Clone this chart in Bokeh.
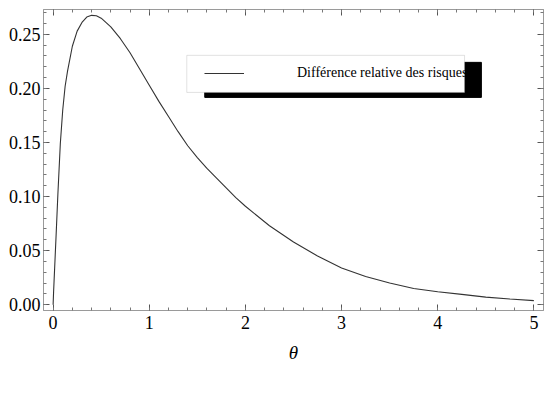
from bokeh.plotting import figure
from bokeh.models import (Range1d, LinearAxis, SingleIntervalTicker, NumeralTickFormatter,
                          BoxAnnotation, Legend, LegendItem, CustomLabelingPolicy)
from bokeh.embed import file_html
from bokeh.resources import INLINE

theta = [0.0, 0.005, 0.01, 0.02, 0.03, 0.05, 0.075, 0.1, 0.125, 0.15, 0.2, 0.25, 0.3, 0.35,
         0.4, 0.45, 0.5, 0.6, 0.7, 0.8, 0.9, 1.0, 1.1, 1.2, 1.3, 1.4, 1.5, 1.6, 1.7, 1.8,
         1.9, 2.0, 2.25, 2.5, 2.75, 3.0, 3.25, 3.5, 3.75, 4.0, 4.25, 4.5, 4.75, 5.0]
diff_rel = [0.0, 0.012, 0.022, 0.042, 0.062, 0.103, 0.149, 0.180, 0.202, 0.216, 0.239, 0.253,
            0.261, 0.266, 0.2676, 0.2672, 0.265, 0.257, 0.246, 0.233, 0.218, 0.203, 0.188,
            0.174, 0.160, 0.147, 0.136, 0.126, 0.117, 0.108, 0.099, 0.091, 0.073, 0.058,
            0.045, 0.034, 0.026, 0.020, 0.0150, 0.012, 0.0095, 0.0070, 0.0052, 0.0037]
series_name = "Différence relative des risques"
x_label = "θ"

FONT = "Liberation Serif"
FRAME = "#9a9a9a"

p = figure(width=548, height=395, output_backend="svg", toolbar_location=None,
           x_range=Range1d(-0.1, 5.1), y_range=Range1d(-0.0054, 0.2730),
           min_border_left=43, min_border_right=3, min_border_top=9, min_border_bottom=85,
           background_fill_color="white", border_fill_color="white")
p.grid.visible = False
p.outline_line_color = FRAME
p.outline_line_width = 1

no_labels = CustomLabelingPolicy(code="""
const all = [...indices]
for (const i of all) indices.unset(i)
return indices
""")


def style(ax, labels=True):
    ax.axis_line_color = FRAME
    ax.major_tick_line_color = "#555555"
    ax.minor_tick_line_color = "#777777"
    ax.major_tick_in = 6
    ax.major_tick_out = 0
    ax.minor_tick_in = 3
    ax.minor_tick_out = 0
    ax.major_label_text_font = FONT
    ax.major_label_text_color = "black"
    if labels:
        ax.major_label_text_font_size = "18px"
    else:
        ax.major_label_text_font_size = "1px"
        ax.major_label_standoff = 0
        ax.major_label_policy = no_labels


p.xaxis.ticker = SingleIntervalTicker(interval=1, num_minor_ticks=5)
p.yaxis.ticker = SingleIntervalTicker(interval=0.05, num_minor_ticks=5)
p.yaxis.formatter = NumeralTickFormatter(format="0.00")
style(p.xaxis[0])
style(p.yaxis[0])
p.xaxis.major_label_standoff = 5
p.yaxis.major_label_standoff = 3
p.xaxis.axis_label = x_label
p.xaxis.axis_label_text_font = FONT
p.xaxis.axis_label_text_font_style = "italic"
p.xaxis.axis_label_text_font_size = "19px"
p.xaxis.axis_label_text_color = "black"
p.xaxis.axis_label_standoff = 10

top = LinearAxis(ticker=SingleIntervalTicker(interval=1, num_minor_ticks=5))
style(top, labels=False)
p.add_layout(top, "above")
right = LinearAxis(ticker=SingleIntervalTicker(interval=0.05, num_minor_ticks=5))
style(right, labels=False)
p.add_layout(right, "right")

r = p.line(theta, diff_rel, line_color="#333333", line_width=1.1)

# legend shadow and box
shadow = BoxAnnotation(left=1.577, right=4.454, top=0.2241, bottom=0.1917,
                       fill_color="black", fill_alpha=1.0, line_color="black", line_alpha=1.0)
box = BoxAnnotation(left=1.390, right=4.279, top=0.2306, bottom=0.1963,
                    fill_color="white", fill_alpha=1.0, line_color="#a0a0a0", line_width=1)
p.add_layout(shadow)
p.add_layout(box)

legend = Legend(items=[LegendItem(label=series_name, renderers=[r])],
                location=(153, 219), margin=0, padding=8,
                glyph_width=40, glyph_height=20, label_standoff=53, label_height=20,
                label_text_font=FONT, label_text_font_size="14px", label_text_color="black",
                background_fill_alpha=0.0, border_line_alpha=0.0)
p.add_layout(legend)

open("out.html", "w").write(file_html(p, INLINE))
